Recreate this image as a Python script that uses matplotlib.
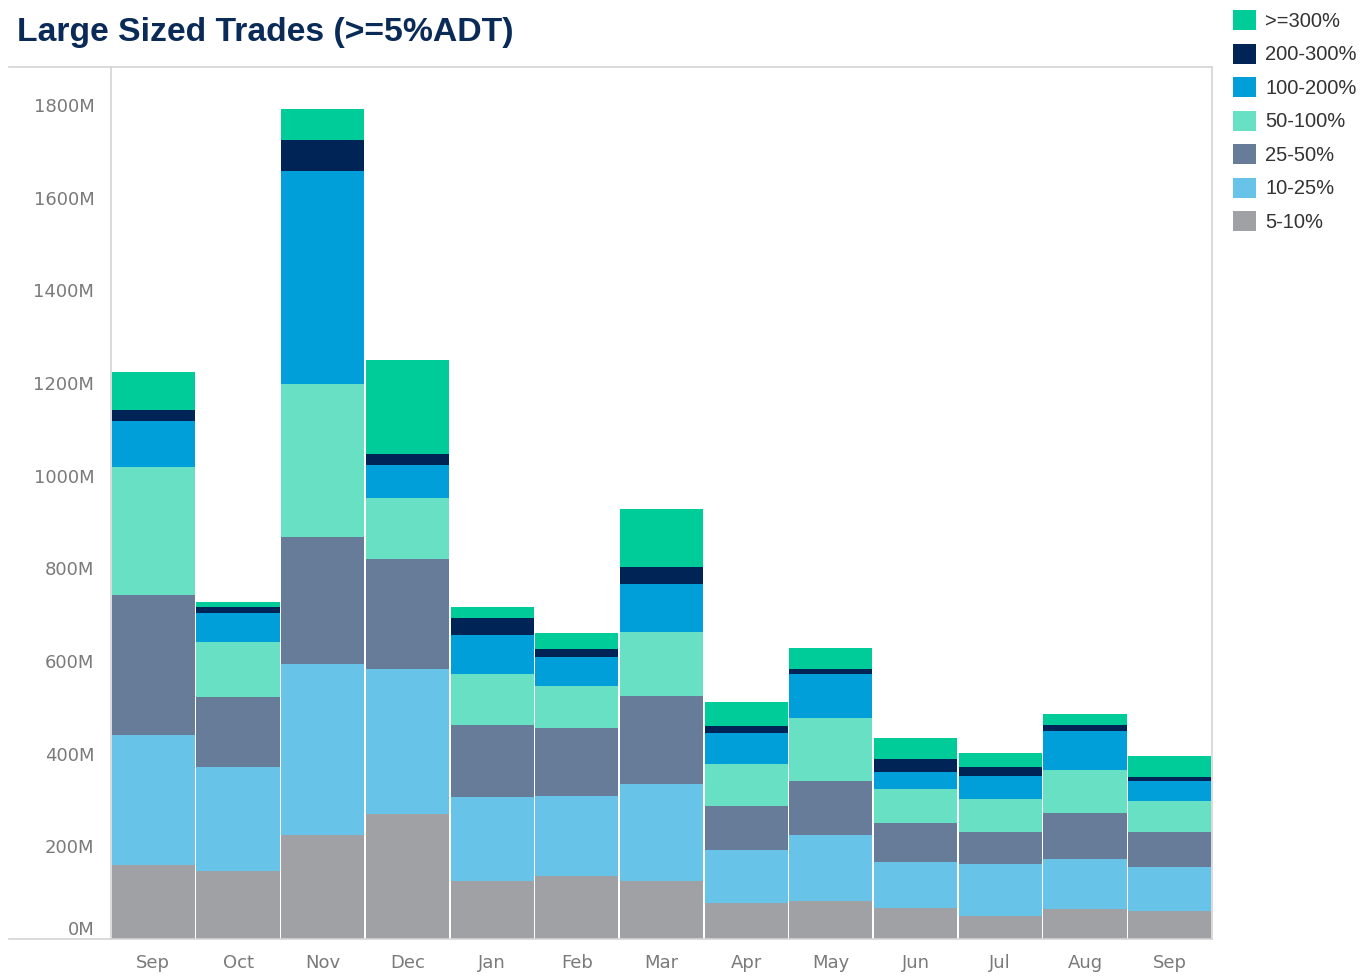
import matplotlib.pyplot as plt
from matplotlib.lines import Line2D

months = ['Sep', 'Oct', 'Nov', 'Dec', 'Jan', 'Feb', 'Mar', 'Apr', 'May', 'Jun', 'Jul', 'Aug', 'Sep']

# trade value per band, in millions (stacked bottom to top)
band_5_10 = [160, 147, 224, 270, 125, 136, 125, 78, 82, 67, 50, 65, 60]
band_10_25 = [280, 224, 369, 313, 181, 173, 209, 114, 142, 99, 112, 108, 95]
band_25_50 = [302, 151, 275, 237, 156, 146, 190, 95, 117, 84, 69, 99, 76]
band_50_100 = [277, 119, 330, 132, 110, 91, 138, 91, 136, 74, 71, 93, 67]
band_100_200 = [99, 63, 459, 71, 84, 63, 104, 67, 95, 36, 50, 84, 43]
band_200_300 = [24, 12, 67, 24, 37, 17, 37, 15, 11, 28, 19, 13, 9]
band_300_up = [82, 11, 67, 202, 23, 34, 125, 51, 45, 46, 30, 24, 45]

bands = ['5-10%', '10-25%', '25-50%', '50-100%', '100-200%', '200-300%', '>=300%']
series = [band_5_10, band_10_25, band_25_50, band_50_100, band_100_200, band_200_300, band_300_up]
colors = ['#a0a1a4', '#67c4e8', '#667c99', '#67e0c4', '#009fda', '#002456', '#00cc99']

fig = plt.figure(figsize=(13.71, 9.76), dpi=100)
W, H = 1371, 976
ax = fig.add_axes([111 / W, 1 - 939 / H, (1212 - 111) / W, (939 - 67) / H])

x = list(range(len(months)))
bottom = [0] * len(months)
handles = []
for name, vals, c in zip(bands, series, colors):
    b = ax.bar(x, vals, width=0.982, bottom=bottom, color=c, linewidth=0, label=name)
    handles.append(b)
    bottom = [p + v for p, v in zip(bottom, vals)]

ax.set_xlim(-0.5, len(months) - 0.5)
ax.set_ylim(0, 1882)
ax.set_yticks(range(0, 2000, 200))
ax.set_yticklabels([f'{v}M' for v in range(0, 2000, 200)])
ax.set_xticks(x)
ax.set_xticklabels(months)
ax.tick_params(length=0, labelsize=13, labelcolor='#7a7a7a')
ax.tick_params(axis='y', pad=12)
ax.tick_params(axis='x', pad=11)
ax.get_yticklabels()[0].set_va('bottom')

for s in ax.spines.values():
    s.set_color('#d4d4d4')
    s.set_linewidth(1.2)

# extend the top and bottom frame lines across the label column
for yy in (67, 939):
    fig.add_artist(Line2D([9 / W, 111 / W], [1 - yy / H, 1 - yy / H], color='#d4d4d4', lw=1.2))

fig.text(17 / W, 1 - 33 / H, 'Large Sized Trades (>=5%ADT)', fontsize=24.3, fontweight='bold',
         color='#0a2a57', family='Liberation Sans', va='center', ha='left')

leg = fig.legend(handles[::-1], bands[::-1], loc='upper left', bbox_to_anchor=(1225 / W, 1 - 2 / H),
                 frameon=False, handlelength=1.15, handleheight=1.15, handletextpad=0.45,
                 labelspacing=0.63, borderaxespad=0, prop={'family': 'Liberation Sans', 'size': 14.5})
for t in leg.get_texts():
    t.set_color('#333333')

fig.savefig('out.png', dpi=100)
